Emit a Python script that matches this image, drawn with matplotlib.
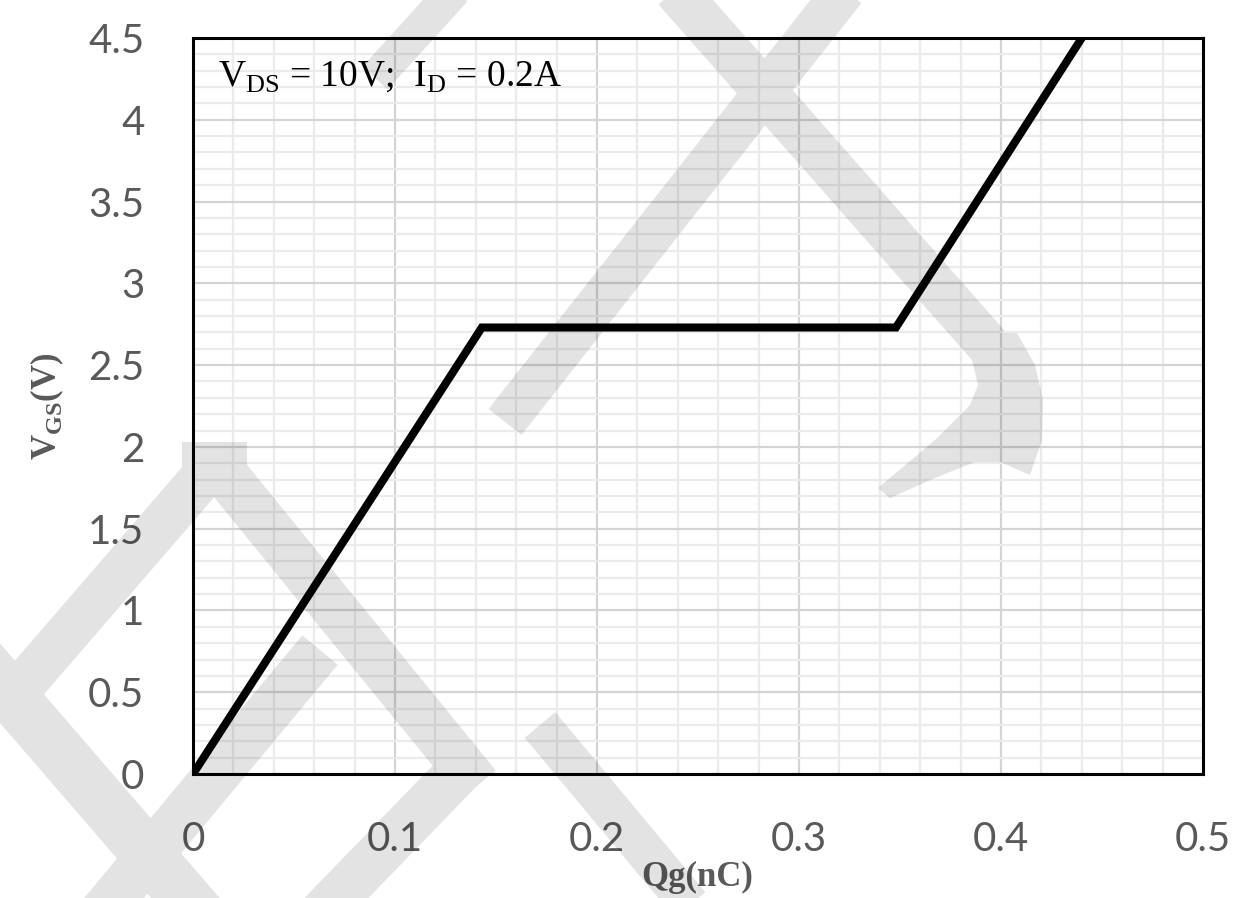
import numpy as np
import matplotlib
matplotlib.use("Agg")
import matplotlib.pyplot as plt
from matplotlib.patches import PathPatch
from matplotlib.path import Path

# ---- data ----
qg = [0.0, 0.143, 0.348, 0.440]      # nC
vgs = [0.0, 2.73, 2.73, 4.5]          # V
xticks = [0, 0.1, 0.2, 0.3, 0.4, 0.5]
xtick_labels = ["0", "0.1", "0.2", "0.3", "0.4", "0.5"]
yticks = [0, 0.5, 1, 1.5, 2, 2.5, 3, 3.5, 4, 4.5]
ytick_labels = ["0", "0.5", "1", "1.5", "2", "2.5", "3", "3.5", "4", "4.5"]
annotation = r"V$_\mathregular{DS}$ = 10V;  I$_\mathregular{D}$ = 0.2A"

W, H = 1243, 898
fig = plt.figure(figsize=(W / 100, H / 100), dpi=100)
ax = fig.add_axes([193 / W, 1 - 774 / H, 1010 / W, 736 / H])

ax.set_xlim(0, 0.5)
ax.set_ylim(0, 4.5)
ax.set_xticks(xticks)
ax.set_xticklabels(xtick_labels)
ax.set_yticks(yticks)
ax.set_yticklabels(ytick_labels)
ax.set_xticks(np.arange(0, 0.5001, 0.02), minor=True)
ax.set_yticks(np.arange(0, 4.5001, 0.1), minor=True)
ax.grid(which="minor", color="#ebebeb", linewidth=1.6, zorder=0)
ax.grid(which="major", color="#d4d4d4", linewidth=1.6, zorder=0)
ax.set_axisbelow(True)
ax.tick_params(which="both", length=0)
ax.tick_params(axis="x", pad=34, labelsize=29, labelcolor="#595959")
ax.tick_params(axis="y", pad=35, labelsize=29, labelcolor="#595959")
for lab in ax.get_xticklabels() + ax.get_yticklabels():
    lab.set_fontfamily("Lato")
for sp in ax.spines.values():
    sp.set_linewidth(2.2)
    sp.set_color("black")

ax.plot(qg, vgs, color="black", linewidth=5.8, solid_joinstyle="miter", zorder=5)

ax.text(0.025, 0.935, annotation, transform=ax.transAxes, fontsize=27,
        family="Liberation Serif", color="black", va="baseline", ha="left")

fig.text(697 / W, 1 - 877 / H, "Qg(nC)", fontsize=25, family="Liberation Serif",
         fontweight="bold", color="#595959", ha="center", va="center")
fig.text(47 / W, 1 - 406 / H, r"V$_\mathregular{GS}$(V)", fontsize=25,
         family="Liberation Serif", fontweight="bold", color="#595959",
         ha="center", va="center", rotation=90)

# ---- faint watermark overlay (decorative) ----
ov = fig.add_axes([0, 0, 1, 1], zorder=10)
ov.set_xlim(0, W)
ov.set_ylim(H, 0)
ov.axis("off")
ov.patch.set_alpha(0)

def band(p0, p1, w):
    p0 = np.array(p0, float); p1 = np.array(p1, float)
    d = p1 - p0
    n = np.array([-d[1], d[0]]) / np.hypot(*d) * w / 2
    return [p0 + n, p1 + n, p1 - n, p0 - n]

shapes = [
    band((505, 422), (845, -10), 42),
    band((675, -10), (988, 345), 44),
    [(960, 333), (1017, 333), (1035, 365), (1043, 400), (1042, 440),
     (1030, 475), (1000, 462), (975, 462), (935, 478), (890, 498),
     (878, 488), (935, 440), (970, 405), (978, 385), (972, 360)],
    [(182, 442), (247, 442), (247, 482), (182, 500)],
    band((215, 462), (478, 785), 46),
    band((10, 700), (200, 480), 44),
    band((-20, 660), (200, 915), 52),
    band((100, 915), (320, 650), 46),
    band((320, 915), (470, 760), 46),
    band((540, 725), (690, 905), 40),
    band((455, -10), (375, 78), 34),
]
verts, codes = [], []
for s in shapes:
    s = np.asarray(s, float)
    area = 0.5 * np.sum(s[:, 0] * np.roll(s[:, 1], -1) - np.roll(s[:, 0], -1) * s[:, 1])
    if area < 0:
        s = s[::-1]
    verts.extend(list(s) + [s[0]])
    codes.extend([Path.MOVETO] + [Path.LINETO] * (len(s) - 1) + [Path.CLOSEPOLY])
ov.add_patch(PathPatch(Path(verts, codes), facecolor="black", alpha=0.11,
                       edgecolor="none"))

fig.savefig("out.png", dpi=100)
